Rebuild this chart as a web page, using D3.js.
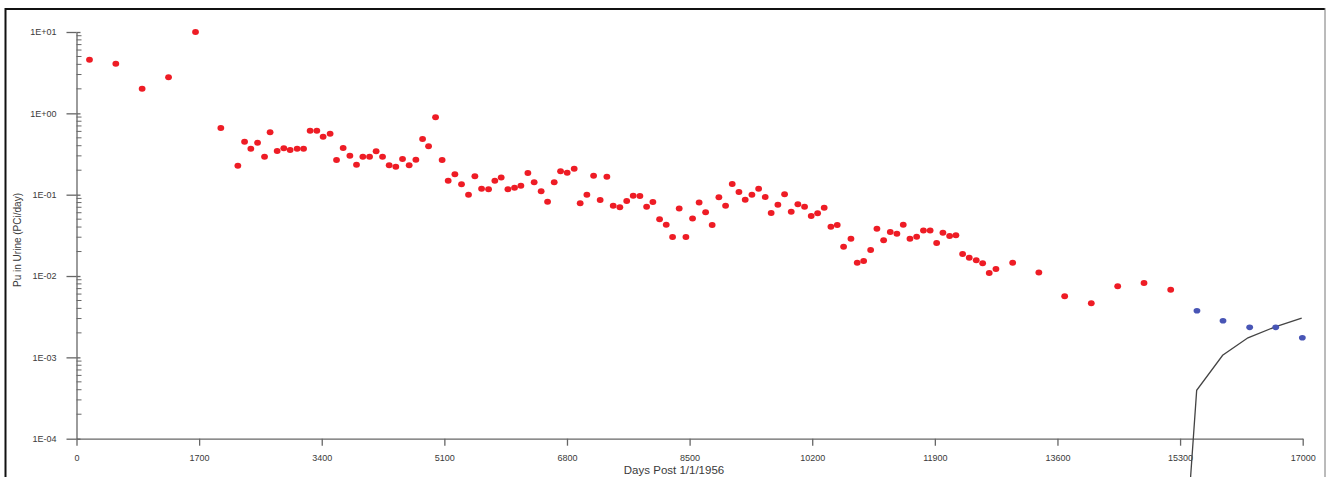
<!DOCTYPE html>
<html>
<head>
<meta charset="utf-8">
<script src="https://cdn.jsdelivr.net/npm/d3@7"></script>
<style>
  body { margin: 0; background: #fff; }
  svg text { font-family: "Liberation Sans", Arial, sans-serif; fill: #3a3a3a; }
</style>
</head>
<body>
<script>
// measured bioassay results, days since 1/1/1956 and pCi/day
redDays = [180, 545, 910, 1276, 1650, 2001, 2237, 2330, 2417, 2510, 2607, 2684, 2782, 2874, 2962, 3059, 3148, 3239, 3332, 3419,
  3516, 3605, 3697, 3790, 3882, 3970, 4063, 4154, 4243, 4335, 4427, 4520, 4612, 4705, 4798, 4881, 4978, 5069, 5153, 5246,
  5338, 5435, 5523, 5616, 5713, 5800, 5888, 5981, 6073, 6161, 6258, 6345, 6442, 6531, 6623, 6711, 6803, 6900, 6983, 7076,
  7169, 7260, 7353, 7441, 7533, 7628, 7718, 7811, 7904, 7991, 8084, 8176, 8264, 8356, 8449, 8541, 8632, 8722, 8813, 8906,
  8999, 9091, 9184, 9271, 9364, 9457, 9548, 9631, 9724, 9817, 9909, 10001, 10094, 10186, 10275, 10366, 10459, 10547, 10635, 10737,
  10824, 10913, 11010, 11097, 11190, 11282, 11374, 11462, 11555, 11648, 11742, 11835, 11925, 12012, 12105, 12192, 12285, 12377, 12474, 12563,
  12654, 12747, 12979, 13342, 13700, 14069, 14435, 14800, 15170];
redValues = [4.56, 4.07, 2.01, 2.77, 10.0, 0.66, 0.227, 0.448, 0.367, 0.435, 0.293, 0.584, 0.344, 0.372, 0.354, 0.367, 0.367, 0.611, 0.611, 0.516,
  0.562, 0.267, 0.375, 0.301, 0.234, 0.293, 0.293, 0.341, 0.293, 0.230, 0.221, 0.275, 0.230, 0.269, 0.484, 0.393, 0.894, 0.267, 0.148, 0.178,
  0.134, 0.0999, 0.168, 0.118, 0.117, 0.148, 0.163, 0.117, 0.122, 0.129, 0.185, 0.142, 0.110, 0.0819, 0.142, 0.194, 0.186, 0.209, 0.0783, 0.100,
  0.171, 0.0860, 0.166, 0.0732, 0.0701, 0.0836, 0.0968, 0.0963, 0.0709, 0.0812, 0.0498, 0.0426, 0.0302, 0.0676, 0.0302, 0.0509, 0.0801, 0.0607, 0.0424, 0.0931,
  0.0732, 0.135, 0.108, 0.0867, 0.100, 0.118, 0.0936, 0.0595, 0.0752, 0.101, 0.0617, 0.0761, 0.0711, 0.0546, 0.0590, 0.0691, 0.0404, 0.0424, 0.0229, 0.0287,
  0.01457, 0.0153, 0.0209, 0.0381, 0.0275, 0.0348, 0.0331, 0.0427, 0.0287, 0.0304, 0.0362, 0.0362, 0.0254, 0.0341, 0.0310, 0.0317, 0.01864, 0.0168, 0.0156, 0.01432,
  0.01088, 0.01219, 0.01457, 0.01104, 0.00563, 0.00462, 0.00747, 0.0082, 0.00678];

blueDays = [15534, 15895, 16265, 16626, 16995];
blueValues = [0.00374, 0.00282, 0.00234, 0.00234, 0.00174];

curveDays = [15404, 15530, 15890, 16241, 16639, 16986];
curveValues = [0.00001, 0.000393, 0.001059, 0.00174, 0.00241, 0.00304];

xTicks = [0, 1700, 3400, 5100, 6800, 8500, 10200, 11900, 13600, 15300, 17000];
yTicks = [1e-4, 1e-3, 1e-2, 1e-1, 1, 10];
yTickLabels = ["1E-04", "1E-03", "1E-02", "1E-01", "1E+00", "1E+01"];

width = 1326;
height = 477;

svg = d3.select("body")
  .append("svg")
  .attr("width", width)
  .attr("height", height);

// frame of the scanned figure
svg.append("line").attr("x1", 5).attr("x2", 1325).attr("y1", 9).attr("y2", 9)
  .attr("stroke", "#111").attr("stroke-width", 2);
svg.append("line").attr("x1", 5.5).attr("x2", 5.5).attr("y1", 8).attr("y2", height)
  .attr("stroke", "#111").attr("stroke-width", 2);
svg.append("line").attr("x1", 1325).attr("x2", 1325).attr("y1", 8).attr("y2", height)
  .attr("stroke", "#777").attr("stroke-width", 1);

xScale = d3.scaleLinear()
  .domain([0, 17000])
  .range([76.5, 1302.7]);

yScale = d3.scaleLog()
  .domain([1e-4, 10])
  .range([438.7, 32]);

// x axis
xAxis = svg.append("g")
  .attr("transform", `translate(0,${yScale(1e-4)})`)
  .call(d3.axisBottom(xScale).tickValues(xTicks).tickFormat(d3.format("d"))
    .tickSizeInner(7).tickSizeOuter(0).tickPadding(9));
xAxis.select(".domain").attr("stroke", "#666").attr("stroke-width", 1.3);
xAxis.selectAll(".tick line").attr("stroke", "#666").attr("stroke-width", 1.3);
xAxis.selectAll("text").attr("font-size", 9).attr("fill", "#3a3a3a");

// y axis with decade labels
yAxis = svg.append("g")
  .attr("transform", `translate(${xScale(0)},0)`)
  .call(d3.axisLeft(yScale).tickValues(yTicks)
    .tickFormat((d, i) => yTickLabels[i])
    .tickSizeInner(10).tickSizeOuter(0).tickPadding(10));
yAxis.select(".domain").attr("stroke", "#666").attr("stroke-width", 1.3);
yAxis.selectAll(".tick line").attr("stroke", "#666").attr("stroke-width", 1.3).attr("x2", -10);
yAxis.selectAll(".tick").append("line")
  .attr("x1", 0).attr("x2", 4).attr("stroke", "#666").attr("stroke-width", 1.3);
yAxis.selectAll("text").attr("font-size", 9).attr("fill", "#3a3a3a");

minor = [];
yTicks.slice(0, -1).forEach(t => { for (k = 2; k <= 9; k++) minor.push(t * k); });
yAxis.selectAll(".minor")
  .data(minor)
  .join("line")
  .attr("class", "minor")
  .attr("x1", 0).attr("x2", 5)
  .attr("y1", d => yScale(d)).attr("y2", d => yScale(d))
  .attr("stroke", "#666").attr("stroke-width", 1);

// axis titles
svg.append("text")
  .attr("x", 674).attr("y", 474)
  .attr("text-anchor", "middle")
  .attr("font-size", 11.5)
  .text("Days Post 1/1/1956");

svg.append("text")
  .attr("transform", "translate(21,240) rotate(-90)")
  .attr("text-anchor", "middle")
  .attr("font-size", 10)
  .text("Pu in Urine (PCi/day)");

// fitted model curve
line = d3.line()
  .x(d => xScale(d[0]))
  .y(d => yScale(d[1]));

svg.append("path")
  .datum(curveDays.map((d, i) => [d, curveValues[i]]))
  .attr("d", line)
  .attr("fill", "none")
  .attr("stroke", "#444")
  .attr("stroke-width", 1.3);

// points
svg.append("g").selectAll("ellipse")
  .data(redDays.map((d, i) => [d, redValues[i]]))
  .join("ellipse")
  .attr("cx", d => xScale(d[0]))
  .attr("cy", d => yScale(d[1]))
  .attr("rx", 3.4)
  .attr("ry", 3)
  .attr("fill", "#ee1c25");

svg.append("g").selectAll("ellipse")
  .data(blueDays.map((d, i) => [d, blueValues[i]]))
  .join("ellipse")
  .attr("cx", d => xScale(d[0]))
  .attr("cy", d => yScale(d[1]))
  .attr("rx", 3.4)
  .attr("ry", 2.8)
  .attr("fill", "#4855b5");
</script>
</body>
</html>
